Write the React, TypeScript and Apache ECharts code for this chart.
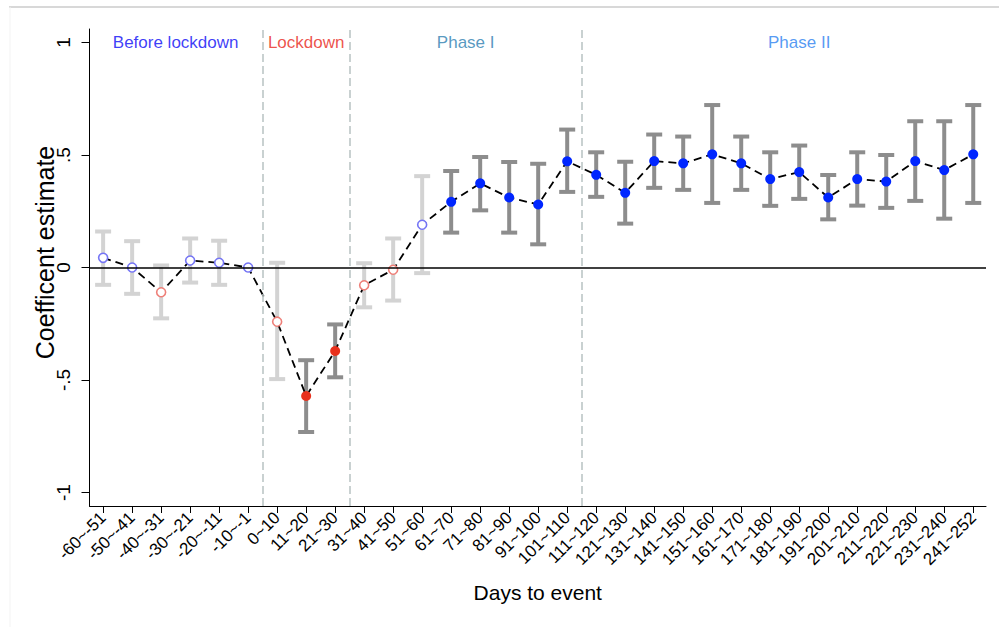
import React, { useEffect, useRef } from "react";
import * as echarts from "echarts";

const categories = [
  "-60~-51", "-50~-41", "-40~-31", "-30~-21", "-20~-11", "-10~-1",
  "0~10", "11~20", "21~30", "31~40", "41~50", "51~60", "61~70", "71~80",
  "81~90", "91~100", "101~110", "111~120", "121~130", "131~140", "141~150",
  "151~160", "161~170", "171~180", "181~190", "191~200", "201~210",
  "211~220", "221~230", "231~240", "241~252",
];

const estimates = [
  0.043, 0.0, -0.11, 0.031, 0.021, 0.0, -0.241, -0.571, -0.371, -0.079,
  -0.01, 0.19, 0.292, 0.374, 0.311, 0.28, 0.472, 0.412, 0.332, 0.473,
  0.463, 0.503, 0.463, 0.393, 0.424, 0.311, 0.393, 0.382, 0.473, 0.433, 0.503,
];

const ciLow: (number | null)[] = [
  -0.077, -0.117, -0.226, -0.067, -0.077, null, -0.496, -0.731, -0.488, -0.177,
  -0.147, -0.025, 0.155, 0.254, 0.155, 0.103, 0.336, 0.314, 0.195, 0.354,
  0.345, 0.287, 0.345, 0.274, 0.305, 0.214, 0.275, 0.265, 0.296, 0.217, 0.287,
];

const ciHigh: (number | null)[] = [
  0.16, 0.117, 0.009, 0.129, 0.119, null, 0.021, -0.412, -0.253, 0.019,
  0.129, 0.406, 0.429, 0.491, 0.469, 0.461, 0.613, 0.512, 0.47, 0.591,
  0.582, 0.722, 0.582, 0.512, 0.542, 0.411, 0.512, 0.5, 0.65, 0.65, 0.722,
];

// "hb" hollow blue, "hr" hollow red, "fr" filled red, "fb" filled blue
const markerKind = [
  "hb", "hb", "hr", "hb", "hb", "hb", "hr", "fr", "fr", "hr",
  "hr", "hb", "fb", "fb", "fb", "fb", "fb", "fb", "fb", "fb",
  "fb", "fb", "fb", "fb", "fb", "fb", "fb", "fb", "fb", "fb", "fb",
];

const periodBreaks = [5.5, 8.5, 16.5];
const phaseNames = ["Before lockdown", "Lockdown", "Phase I", "Phase II"];
const phaseX = [2.5, 7, 12.5, 24];
const phaseColors = ["#0a0af5", "#e8261a", "#2c7eb0", "#2a7ff0"];

const yTicks = [-1, -0.5, 0, 0.5, 1];
const yTickLabels = ["-1", "-.5", "0", ".5", "1"];

const FONT = "'Liberation Sans', Arial, Helvetica, sans-serif";

export default function App() {
  const ref = useRef<HTMLDivElement>(null);
  useEffect(() => {
    if (!ref.current) return;
    const chart = echarts.init(ref.current, undefined, { renderer: "svg" });
    const idx = categories.map((_, i) => i);
    const bars = idx
      .filter((i) => ciLow[i] !== null && ciHigh[i] !== null)
      .map((i) => [i, ciLow[i], ciHigh[i], markerKind[i].startsWith("f") ? 1 : 0]);
    const pts = (k: string) =>
      idx.filter((i) => markerKind[i] === k).map((i) => [i, estimates[i]]);

    const option: any = {
      animation: false,
      backgroundColor: "#ffffff",
      grid: { left: 89.5, right: 13, top: 29, bottom: 121, containLabel: false },
      xAxis: {
        type: "value",
        min: -0.47,
        max: 30.44,
        name: "Days to event",
        nameLocation: "middle",
        nameGap: 76,
        nameMoveOverlap: false,
        nameTextStyle: { fontFamily: FONT, fontSize: 21, color: "#000" },
        axisLine: { show: true, onZero: false, lineStyle: { color: "#000", width: 1 } },
        axisTick: { show: true, length: 7, customValues: idx, lineStyle: { color: "#000", width: 1 } },
        axisLabel: {
          customValues: idx,
          rotate: 45,
          margin: 9,
          fontFamily: FONT,
          fontSize: 17,
          color: "#000",
          formatter: (v: number) => categories[Math.round(v)] ?? "",
        },
        splitLine: { show: false },
      },
      yAxis: {
        type: "value",
        min: -1.06,
        max: 1.06,
        name: "Coefficent estimate",
        nameLocation: "middle",
        nameGap: 32,
        nameMoveOverlap: false,
        nameTextStyle: { fontFamily: FONT, fontSize: 25, color: "#000", padding: [0, 0, 0, 30] },
        axisLine: { show: true, onZero: false, lineStyle: { color: "#000", width: 1 } },
        axisTick: { show: true, length: 8, customValues: yTicks, lineStyle: { color: "#000", width: 1 } },
        axisLabel: {
          customValues: yTicks,
          rotate: 90,
          margin: 17,
          fontFamily: FONT,
          fontSize: 19,
          color: "#000",
          formatter: (v: number) => {
            const k = yTicks.findIndex((t) => Math.abs(t - v) < 1e-6);
            return k >= 0 ? yTickLabels[k] : "";
          },
        },
        splitLine: { show: false },
      },
      graphic: [
        { type: "line", shape: { x1: 9, y1: 7, x2: 999, y2: 7 }, style: { stroke: "#cbcbcb", lineWidth: 1.5 } },
        { type: "line", shape: { x1: 10, y1: 7, x2: 10, y2: 627 }, style: { stroke: "#f3f3f3", lineWidth: 1 } },
      ],
      series: [
        {
          type: "custom",
          z: 2,
          data: bars,
          renderItem: (params: any, api: any) => {
            const x = api.value(0);
            const lo = api.coord([x, api.value(1)]);
            const hi = api.coord([x, api.value(2)]);
            const dark = api.value(3) === 1;
            const color = dark ? "#8d8d8d" : "#d3d3d3";
            const w = 8;
            const style = { stroke: color, lineWidth: 4, fill: null };
            return {
              type: "group",
              children: [
                { type: "line", shape: { x1: lo[0], y1: lo[1], x2: hi[0], y2: hi[1] }, style },
                { type: "line", shape: { x1: lo[0] - w, y1: lo[1], x2: lo[0] + w, y2: lo[1] }, style },
                { type: "line", shape: { x1: hi[0] - w, y1: hi[1], x2: hi[0] + w, y2: hi[1] }, style },
              ],
            };
          },
        },
        {
          type: "line",
          z: 3,
          data: idx.map((i) => [i, estimates[i]]),
          symbol: "none",
          lineStyle: { color: "#000", width: 1.8, type: [8, 5] },
          markLine: {
            silent: true,
            symbol: "none",
            label: { show: false },
            data: [
              { yAxis: 0, lineStyle: { color: "#000", width: 1.5, type: "solid" } },
              ...periodBreaks.map((b) => ({
                xAxis: b,
                lineStyle: { color: "#bcc6c6", width: 1.6, type: [8, 4] },
              })),
            ],
          },
        },
        {
          type: "scatter",
          z: 4,
          data: pts("hb"),
          symbol: "circle",
          symbolSize: 9,
          itemStyle: { color: "#ffffff", borderColor: "#7575f5", borderWidth: 1.6, opacity: 1 },
        },
        {
          type: "scatter",
          z: 4,
          data: pts("hr"),
          symbol: "circle",
          symbolSize: 9,
          itemStyle: { color: "#ffffff", borderColor: "#ee7f78", borderWidth: 1.6, opacity: 1 },
        },
        {
          type: "scatter",
          z: 4,
          data: pts("fr"),
          symbol: "circle",
          symbolSize: 10,
          itemStyle: { color: "#e8301c", opacity: 1 },
        },
        {
          type: "scatter",
          z: 4,
          data: pts("fb"),
          symbol: "circle",
          symbolSize: 10,
          itemStyle: { color: "#0026ff", opacity: 1 },
        },
        {
          type: "scatter",
          z: 5,
          symbolSize: 0,
          silent: true,
          data: phaseNames.map((n, i) => ({
            value: [phaseX[i], 1],
            name: n,
            label: { color: phaseColors[i] },
          })),
          label: {
            show: true,
            position: "inside",
            fontFamily: FONT,
            fontSize: 17,
            formatter: (p: any) => p.name,
          },
        },
      ],
    };
    chart.setOption(option);
    return () => chart.dispose();
  }, []);
  return (
    <div
      ref={ref}
      style={{ position: "absolute", left: 0, top: 0, width: 999, height: 627, background: "#fff" }}
    />
  );
}
